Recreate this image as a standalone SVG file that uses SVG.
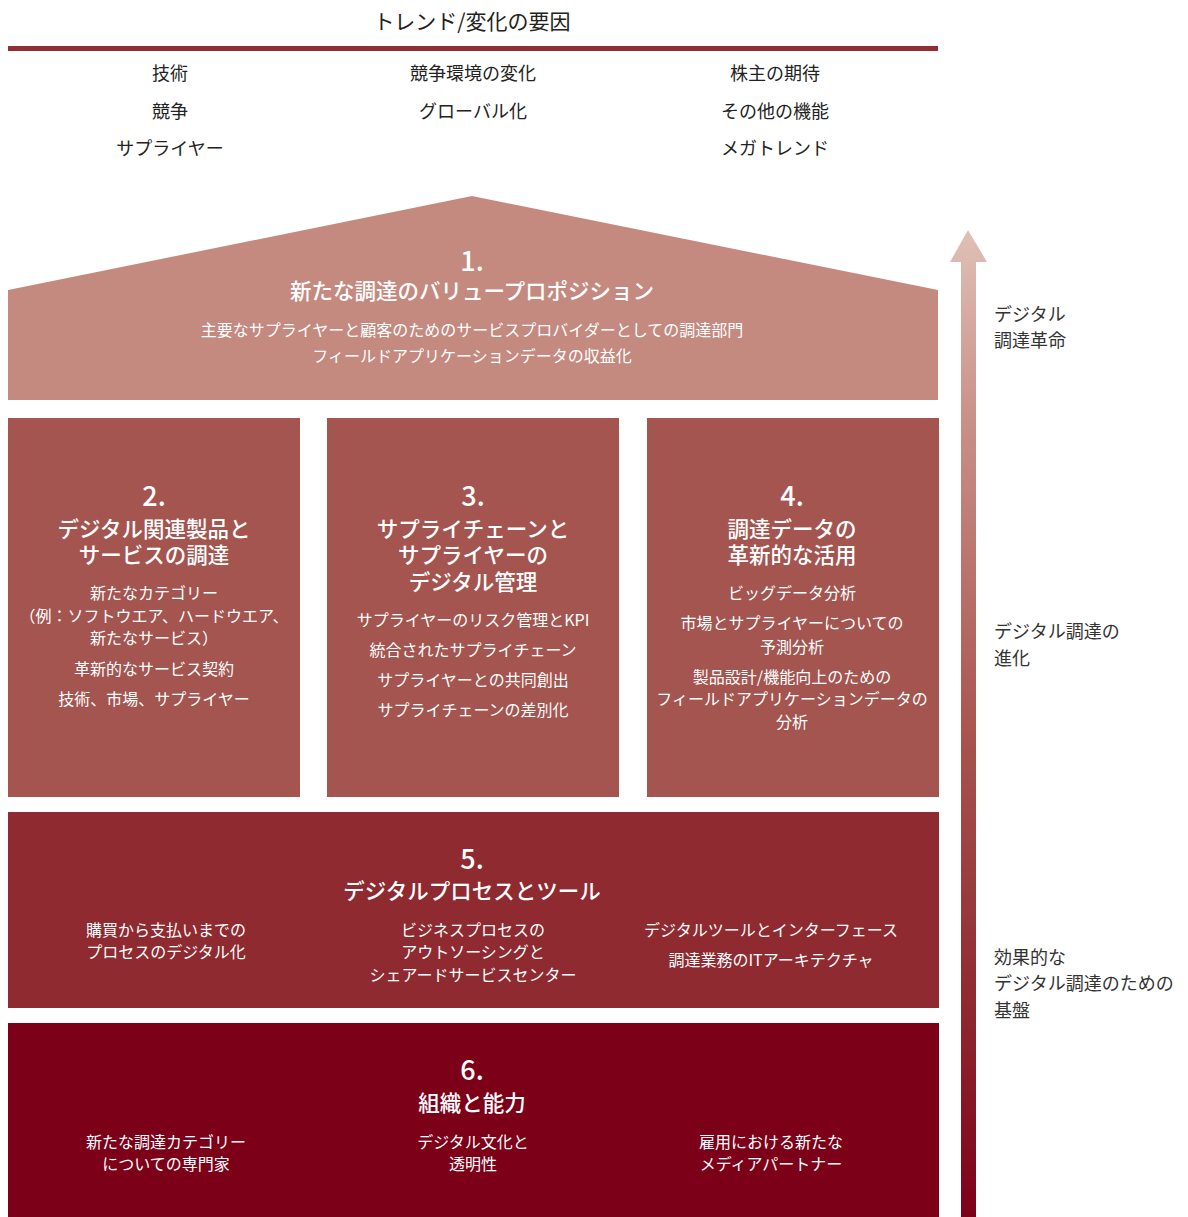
<svg xmlns="http://www.w3.org/2000/svg" width="1188" height="1217" viewBox="0 0 1188 1217">
<style>
text{font-family:"Noto Sans CJK JP","Noto Sans",sans-serif;text-anchor:middle}
.hd{font-size:21px;fill:#222}
.tp{font-size:18px;fill:#222}
.num{font-size:27px;fill:#fff;font-weight:500}
.ttl{font-size:21.5px;fill:#fff;font-weight:500}
.it{font-size:16px;fill:#fff}
.rl{font-size:18px;fill:#333;text-anchor:start}
</style>
<defs>
<linearGradient id="ag" gradientUnits="userSpaceOnUse" x1="0" y1="230" x2="0" y2="1217">
<stop offset="0" stop-color="#e0c0b6"/>
<stop offset="0.2" stop-color="#c88f86"/>
<stop offset="0.5" stop-color="#a9574f"/>
<stop offset="0.78" stop-color="#8f2a30"/>
<stop offset="1" stop-color="#7d0019"/>
</linearGradient>
</defs>
<g id="header">
<text class="hd" x="472" y="29">トレンド/変化の要因</text>
<rect x="8" y="46" width="930" height="5" fill="#912f35"/>
<text class="tp" x="170" y="80">技術</text>
<text class="tp" x="170" y="118">競争</text>
<text class="tp" x="170" y="155">サプライヤー</text>
<text class="tp" x="473" y="80">競争環境の変化</text>
<text class="tp" x="473" y="118">グローバル化</text>
<text class="tp" x="775" y="80">株主の期待</text>
<text class="tp" x="775" y="118">その他の機能</text>
<text class="tp" x="775" y="155">メガトレンド</text>
</g>
<g id="node1">
<polygon points="8,290 472,196 938,290 938,400 8,400" fill="#c48a80"/>
<text class="num" x="472" y="271">1.</text>
<text class="ttl" x="472" y="299">新たな調達のバリュープロポジション</text>
<text class="it" x="472" y="336">主要なサプライヤーと顧客のためのサービスプロバイダーとしての調達部門</text>
<text class="it" x="472" y="362">フィールドアプリケーションデータの収益化</text>
</g>
<g id="node2">
<rect x="8" y="418" width="292" height="379" fill="#a4554f"/>
<text class="num" x="154" y="506">2.</text>
<text class="ttl" x="154" y="537">デジタル関連製品と</text>
<text class="ttl" x="154" y="563">サービスの調達</text>
<text class="it" x="154" y="599">新たなカテゴリー</text>
<text class="it" x="154" y="622">（例：ソフトウエア、ハードウエア、</text>
<text class="it" x="154" y="644">新たなサービス）</text>
<text class="it" x="154" y="675">革新的なサービス契約</text>
<text class="it" x="154" y="705">技術、市場、サプライヤー</text>
</g>
<g id="node3">
<rect x="327" y="418" width="292" height="379" fill="#a4554f"/>
<text class="num" x="473" y="506">3.</text>
<text class="ttl" x="473" y="537">サプライチェーンと</text>
<text class="ttl" x="473" y="563">サプライヤーの</text>
<text class="ttl" x="473" y="590">デジタル管理</text>
<text class="it" x="473" y="626">サプライヤーのリスク管理とKPI</text>
<text class="it" x="473" y="656">統合されたサプライチェーン</text>
<text class="it" x="473" y="686">サプライヤーとの共同創出</text>
<text class="it" x="473" y="716">サプライチェーンの差別化</text>
</g>
<g id="node4">
<rect x="647" y="418" width="292" height="379" fill="#a4554f"/>
<text class="num" x="792" y="506">4.</text>
<text class="ttl" x="792" y="537">調達データの</text>
<text class="ttl" x="792" y="563">革新的な活用</text>
<text class="it" x="792" y="599">ビッグデータ分析</text>
<text class="it" x="792" y="629">市場とサプライヤーについての</text>
<text class="it" x="792" y="653">予測分析</text>
<text class="it" x="792" y="683">製品設計/機能向上のための</text>
<text class="it" x="792" y="705">フィールドアプリケーションデータの</text>
<text class="it" x="792" y="728">分析</text>
</g>
<g id="node5">
<rect x="8" y="812" width="931" height="196" fill="#8f2a30"/>
<text class="num" x="472" y="869">5.</text>
<text class="ttl" x="472" y="899">デジタルプロセスとツール</text>
<text class="it" x="166" y="936">購買から支払いまでの</text>
<text class="it" x="166" y="958">プロセスのデジタル化</text>
<text class="it" x="473" y="936">ビジネスプロセスの</text>
<text class="it" x="473" y="958">アウトソーシングと</text>
<text class="it" x="473" y="981">シェアードサービスセンター</text>
<text class="it" x="771" y="936">デジタルツールとインターフェース</text>
<text class="it" x="771" y="966">調達業務のITアーキテクチャ</text>
</g>
<g id="node6">
<rect x="8" y="1023" width="931" height="194" fill="#7d0019"/>
<text class="num" x="472" y="1080">6.</text>
<text class="ttl" x="472" y="1111">組織と能力</text>
<text class="it" x="166" y="1148">新たな調達カテゴリー</text>
<text class="it" x="166" y="1170">についての専門家</text>
<text class="it" x="473" y="1148">デジタル文化と</text>
<text class="it" x="473" y="1170">透明性</text>
<text class="it" x="771" y="1148">雇用における新たな</text>
<text class="it" x="771" y="1170">メディアパートナー</text>
</g>
<g id="connectors">
<path d="M961,262 L950,262 L968,230 L987,262 L976,262 L976,1217 L961,1217 Z" fill="url(#ag)"/>
</g>
<g id="labels">
<text class="rl" x="994" y="321">デジタル</text>
<text class="rl" x="994" y="347">調達革命</text>
<text class="rl" x="994" y="638">デジタル調達の</text>
<text class="rl" x="994" y="665">進化</text>
<text class="rl" x="994" y="964">効果的な</text>
<text class="rl" x="994" y="990">デジタル調達のための</text>
<text class="rl" x="994" y="1017">基盤</text>
</g>
</svg>
